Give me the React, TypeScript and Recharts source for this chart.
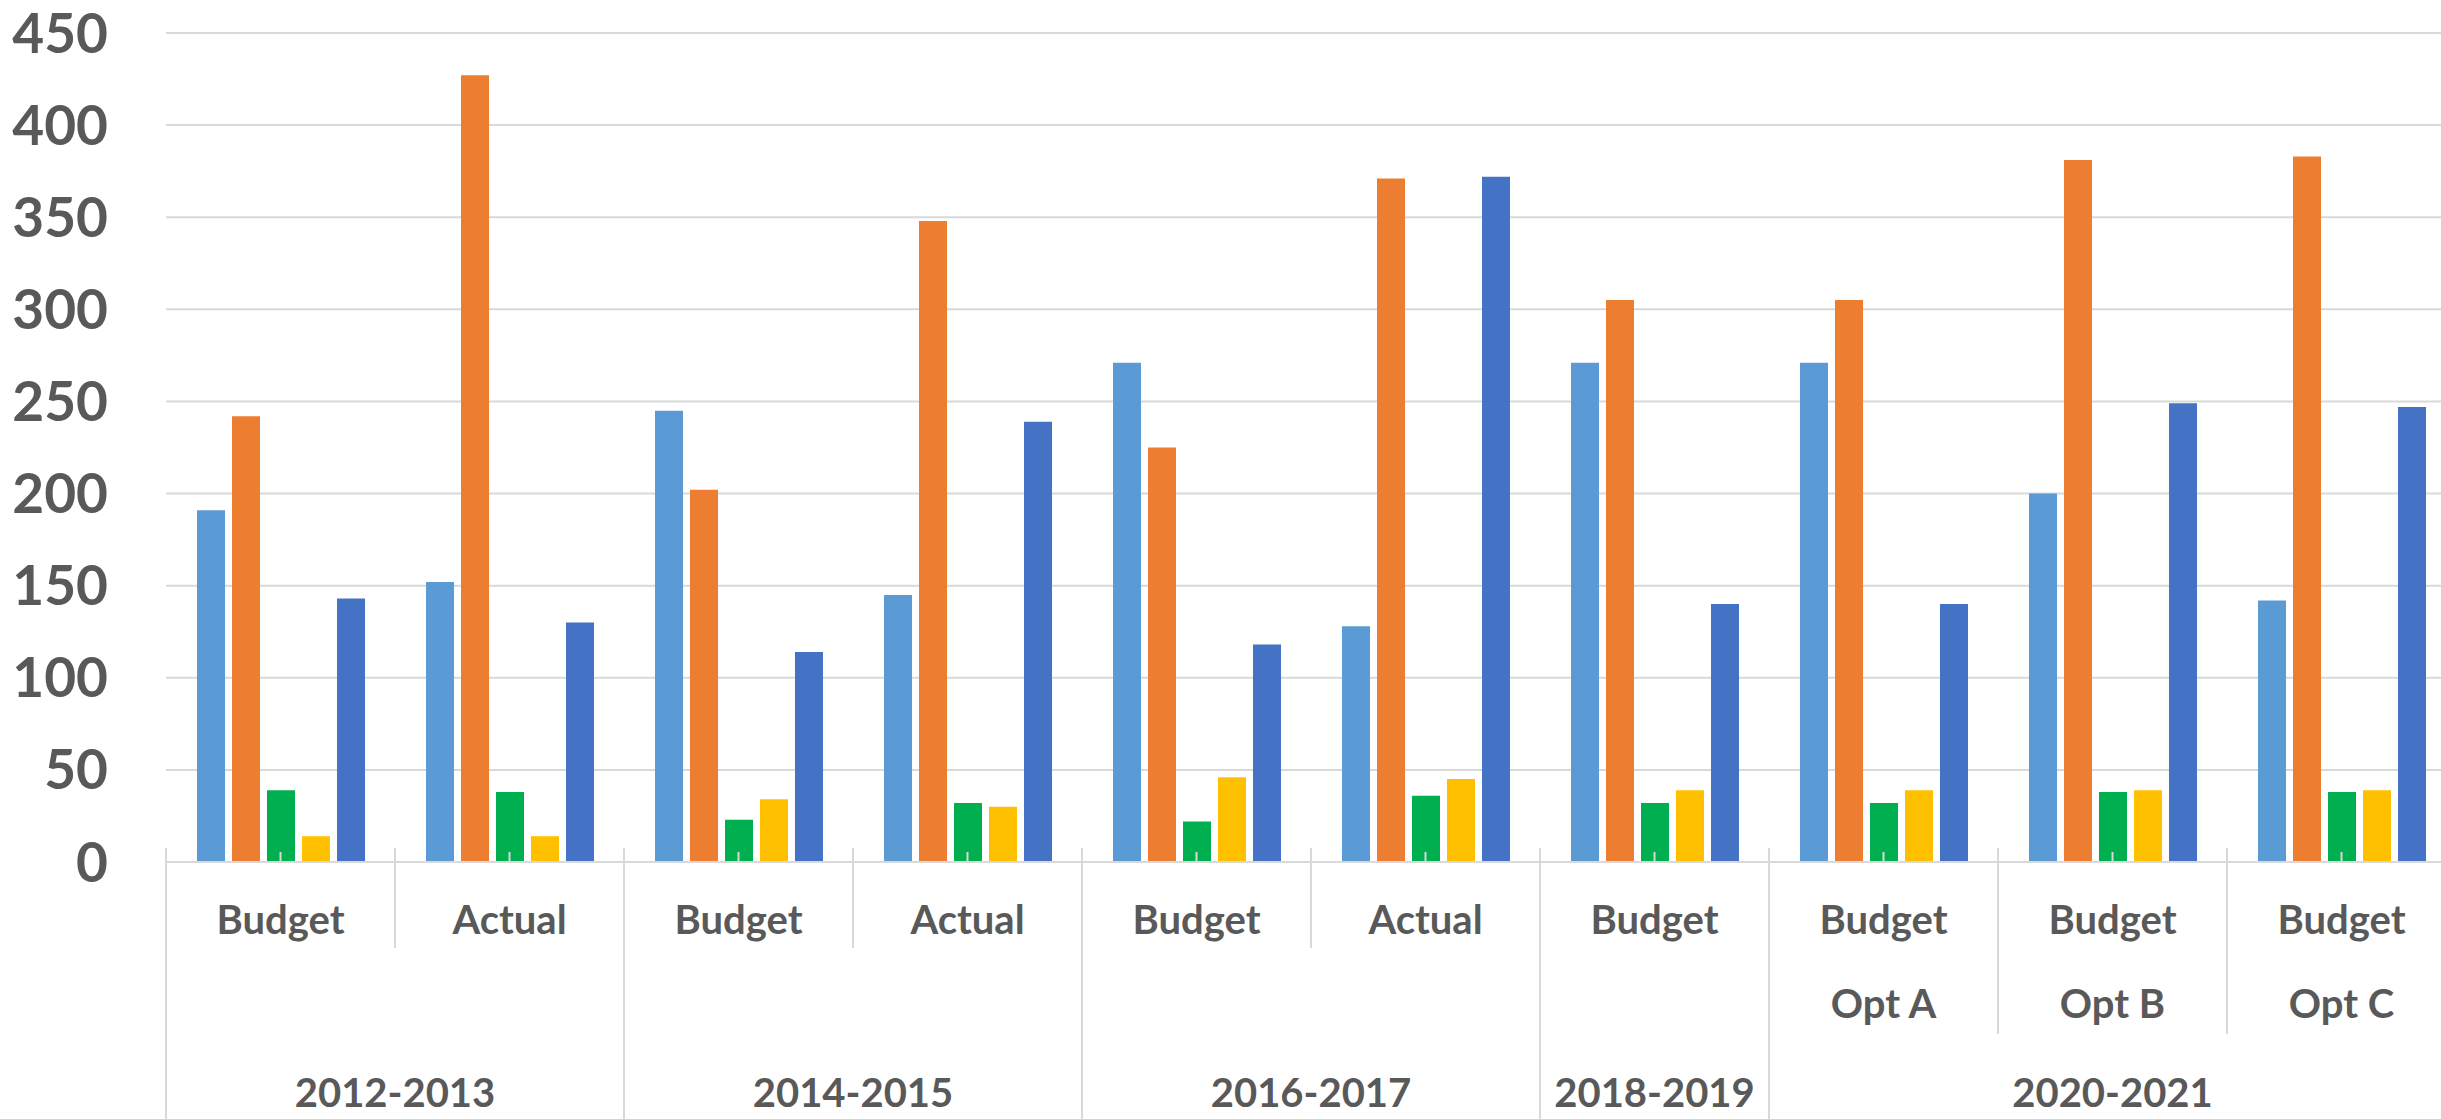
import React from 'react';
import { BarChart, Bar, XAxis, YAxis, CartesianGrid } from 'recharts';

const groups = ['2012-2013', '2012-2013', '2014-2015', '2014-2015', '2016-2017', '2016-2017', '2018-2019', '2020-2021', '2020-2021', '2020-2021'];
const categories = ['Budget', 'Actual', 'Budget', 'Actual', 'Budget', 'Actual', 'Budget', 'Budget', 'Budget', 'Budget'];
const subLabels = ['', '', '', '', '', '', '', 'Opt A', 'Opt B', 'Opt C'];

const seriesLightBlue = [191, 152, 245, 145, 271, 128, 271, 271, 200, 142];
const seriesOrange = [242, 427, 202, 348, 225, 371, 305, 305, 381, 383];
const seriesGreen = [39, 38, 23, 32, 22, 36, 32, 32, 38, 38];
const seriesYellow = [14, 14, 34, 30, 46, 45, 39, 39, 39, 39];
const seriesBlue = [143, 130, 114, 239, 118, 372, 140, 140, 249, 247];

const yTicks = [0, 50, 100, 150, 200, 250, 300, 350, 400, 450];

const data = categories.map((c, i) => ({
  key: `${groups[i]}|${c}|${subLabels[i]}|${i}`,
  a: seriesLightBlue[i],
  b: seriesOrange[i],
  c: seriesGreen[i],
  d: seriesYellow[i],
  e: seriesBlue[i],
}));

const TEXT = '#595959';
const LINE = '#d9d9d9';
const FONT = 'Lato, "Open Sans", sans-serif';

const CategoryTick = (props: any) => {
  const { x, y, payload } = props;
  const i: number = payload.index;
  const half: number = payload.offset || 114.5;
  const left = x - half;
  const right = x + half;
  const els: any[] = [];
  els.push(<line key="ct" x1={x} x2={x} y1={y - 10} y2={y} stroke={LINE} strokeWidth={2} />);
  els.push(
    <text key="cl" x={x} y={y + 72} textAnchor="middle" fill={TEXT} fontSize={40} fontWeight={700} fontFamily={FONT}>
      {categories[i]}
    </text>
  );
  if (subLabels[i]) {
    els.push(
      <text key="sl" x={x} y={y + 156} textAnchor="middle" fill={TEXT} fontSize={40} fontWeight={700} fontFamily={FONT}>
        {subLabels[i]}
      </text>
    );
  }
  const isGroupStart = i === 0 || groups[i] !== groups[i - 1];
  const bottom = y + 300;
  if (isGroupStart) {
    els.push(<line key="gd" x1={left} x2={left} y1={y - 14} y2={bottom} stroke={LINE} strokeWidth={2} />);
    let n = 0;
    while (i + n < groups.length && groups[i + n] === groups[i]) n++;
    const cx = left + n * half;
    els.push(
      <text key="gl" x={cx} y={y + 245} textAnchor="middle" fill={TEXT} fontSize={40} fontWeight={700} fontFamily={FONT}>
        {groups[i]}
      </text>
    );
  } else {
    const end = subLabels[i] ? y + 172 : y + 86;
    els.push(<line key="cd" x1={left} x2={left} y1={y - 14} y2={end} stroke={LINE} strokeWidth={2} />);
  }
  if (i === groups.length - 1) {
    els.push(<line key="ed" x1={right} x2={right} y1={y - 14} y2={bottom} stroke={LINE} strokeWidth={2} />);
  }
  return <g>{els}</g>;
};

export default function App() {
  return (
    <div style={{ position: 'fixed', left: 0, top: 0, width: 2441, height: 1119, overflow: 'hidden', background: '#fff' }}>
      <BarChart
        width={2456}
        height={1119}
        data={data}
        margin={{ top: 33, right: 0, bottom: 0, left: 0 }}
        barGap={7}
        style={{ fontFamily: FONT }}
      >
        <CartesianGrid horizontal={true} vertical={false} stroke={LINE} strokeWidth={2} />
        <YAxis
          width={166}
          domain={[0, 450]}
          ticks={yTicks}
          interval={0}
          axisLine={false}
          tickLine={false}
          tickSize={0}
          tickMargin={58}
          tick={{ fill: TEXT, fontSize: 55, fontWeight: 700, fontFamily: FONT }}
        />
        <Bar dataKey="a" fill="#5B9BD5" barSize={28} isAnimationActive={false} />
        <Bar dataKey="b" fill="#ED7D31" barSize={28} isAnimationActive={false} />
        <Bar dataKey="c" fill="#00B050" barSize={28} isAnimationActive={false} />
        <Bar dataKey="d" fill="#FFC000" barSize={28} isAnimationActive={false} />
        <Bar dataKey="e" fill="#4472C4" barSize={28} isAnimationActive={false} />
        <XAxis
          dataKey="key"
          height={257}
          interval={0}
          axisLine={{ stroke: LINE, strokeWidth: 2 }}
          tickLine={false}
          tickSize={0}
          tickMargin={0}
          tick={<CategoryTick />}
        />
      </BarChart>
    </div>
  );
}
